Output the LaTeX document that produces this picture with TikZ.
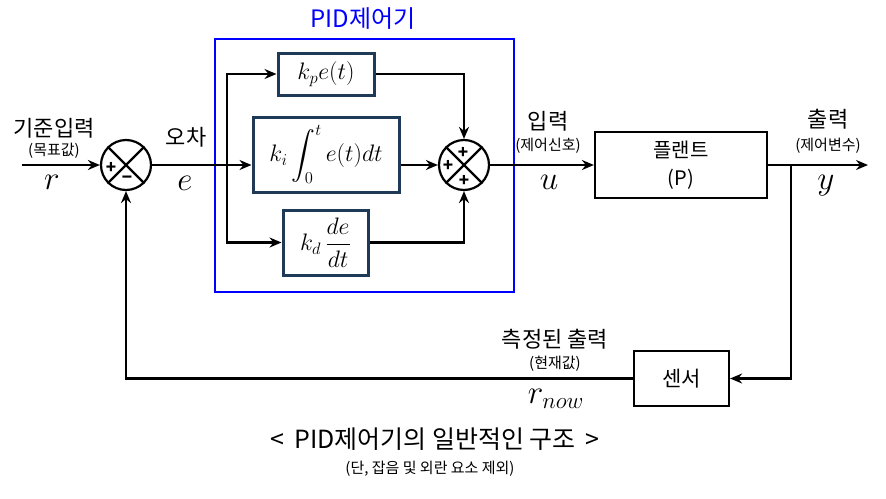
\documentclass[tikz,border=0pt]{standalone}
\usepackage{amsmath}
\usepackage{fontspec}
\newfontfamily\kr{Noto Sans CJK KR}
\usetikzlibrary{arrows.meta,calc}
\definecolor{navy}{HTML}{1F3A57}
\definecolor{pidblue}{HTML}{0000FF}
\newcommand{\mybigmath}[1]{\scalebox{1.6}{$#1$}}
\newcommand{\myboxmath}[1]{\scalebox{1.15}{$#1$}}
\begin{document}
\begin{tikzpicture}[x=1pt,y=-1pt,
  line width=2.2pt,
  arr/.style={-{Stealth[length=12pt,width=10pt,inset=4pt]}},
  pidbox/.style={draw=navy,line width=3pt,inner sep=0pt,fill=white},
  plainbox/.style={draw=black,line width=2.2pt,inner sep=0pt},
  sumc/.style={circle,draw=black,line width=2.2pt,minimum size=50pt,inner sep=0pt},
  sgn/.style={inner sep=0pt,font=\kr\fontsize{17}{17}\selectfont\bfseries},
  lab/.style={inner sep=0pt,font=\kr\fontsize{22}{24}\selectfont},
  sub/.style={inner sep=0pt,font=\kr\fontsize{15}{16}\selectfont},
  mth/.style={inner sep=0pt,font=\fontsize{20}{22}\selectfont},
  bm/.style={font=\fontsize{20}{22}\selectfont}
]
\useasboundingbox (0,0) rectangle (886,498);

% PID controller frame
\node[draw=pidblue,line width=2.2pt,minimum width=299pt,minimum height=253pt,inner sep=0pt] (pid) at (364.5,165.5) {};
\node[lab,text=pidblue,font=\kr\fontsize{24}{26}\selectfont] (pidlab) at (363,19) {PID제어기};

% summing junctions
\node[sumc] (s1) at (126,165) {};
\node[sumc] (s2) at (464,165) {};
\foreach \s in {s1,s2}{
  \draw[line width=2.2pt] (\s.north west) -- (\s.south east);
  \draw[line width=2.2pt] (\s.north east) -- (\s.south west);
}
\node[sgn] (s1p) at ($(s1)+(-15,3)$) {+};
\node[sgn] (s1m) at ($(s1)+(1,15)$) {−};
\node[sgn] (s2t) at ($(s2)+(-1,-12)$) {+};
\node[sgn] (s2l) at ($(s2)+(-16,1)$) {+};
\node[sgn] (s2b) at ($(s2)+(0,16)$) {+};

% PID blocks
\node[pidbox,minimum width=96pt,minimum height=42pt,bm] (kp) at (326,74) {\myboxmath{k_p e(t)}};
\node[pidbox,minimum width=146pt,minimum height=75pt,bm] (ki) at (326,154.5) {\myboxmath{k_i \displaystyle\int_0^t e(t)dt}};
\node[pidbox,minimum width=85pt,minimum height=65pt,bm] (kd) at (325.5,242.5) {\myboxmath{k_d\,\dfrac{de}{dt}}};

% plant and sensor
\node[plainbox,minimum width=172pt,minimum height=66pt,align=center,font=\kr\fontsize{20}{28}\selectfont] (plant) at (681,165) {플랜트\\(P)};
\node[plainbox,minimum width=95pt,minimum height=55pt,font=\kr\fontsize{21}{22}\selectfont] (sensor) at (681.5,378.5) {센서};

% coordinates
\coordinate (in) at (22,165);
\coordinate (br) at (227,165);
\coordinate (tap) at (791,165);
\coordinate (out) at (868,165);

% connectors
\draw[arr] (in) -- (s1.west);
\draw (s1.east) -- (br);
\draw[arr] (br) -- (ki.west |- br);
\draw[arr] (br) |- (kp.west);
\draw[arr] (br) |- (kd.west);
\draw[arr] (kp.east) -| (s2.north);
\draw[arr] (ki.east |- s2) -- (s2.west);
\draw[arr] (kd.east) -| (s2.south);
\draw[arr] (s2.east) -- (plant.west);
\draw[arr] (plant.east) -- (out);
\draw[arr] (tap) |- (sensor.east);
\draw[arr] (sensor.west) -| (s1.south);

% labels
\node[lab] (l1) at (54,128) {기준입력};
\node[sub] (l1s) at (54,151) {(목표값)};
\node[mth] (r) at (52,182) {\mybigmath{r}};
\node[lab] (l2) at (186,137) {오차};
\node[mth] (e) at (185,183) {\mybigmath{e}};
\node[lab] (l3) at (548,121) {입력};
\node[sub] (l3s) at (548,146) {(제어신호)};
\node[mth] (u) at (549,182) {\mybigmath{u}};
\node[lab] (l4) at (828,119) {출력};
\node[sub] (l4s) at (828,146) {(제어변수)};
\node[mth] (y) at (826,186) {\mybigmath{y}};
\node[lab] (l5) at (555,339) {측정된 출력};
\node[sub] (l5s) at (555,364) {(현재값)};
\node[mth] (rn) at (556,399) {\mybigmath{r_{now}}};
\node[lab,font=\kr\fontsize{25}{26}\selectfont] (cap) at (435,439) {<\, PID제어기의 일반적인 구조 \,>};
\node[sub] (cap2) at (430,469) {(단, 잡음 및 외란 요소 제외)};
\end{tikzpicture}
\end{document}
